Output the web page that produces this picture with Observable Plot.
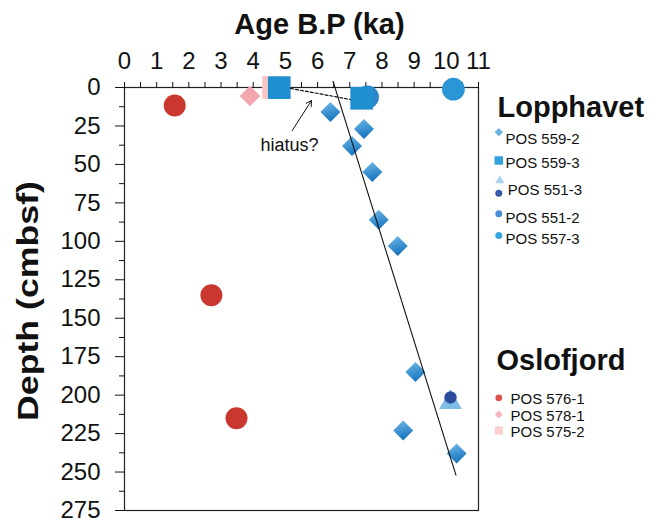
<!DOCTYPE html>
<html><head><meta charset="utf-8">
<script src="https://cdn.jsdelivr.net/npm/d3@7"></script>
<script src="https://cdn.jsdelivr.net/npm/@observablehq/plot@0.6"></script>
<style>
body{margin:0;background:#fff;}
svg{font-family:"Liberation Sans",Arial,sans-serif;}
</style>
</head><body><div id="chart"></div>
<script>
// ---- tick labels ----
const xTicks = [0,1,2,3,4,5,6,7,8,9,10,11];
const xMinorTicks = [0.5,1.5,2.5,3.5,4.5,5.5,6.5,7.5,8.5,9.5,10.5];
const yTicks = [0,25,50,75,100,125,150,175,200,225,250,275];
const yMinorTicks = [12.5,37.5,62.5,87.5,112.5,137.5,162.5,187.5,212.5,237.5,262.5];

// ---- Lopphavet cores ----
const age5592 = [6.40, 7.44, 7.07, 7.70, 7.90, 8.49, 9.04, 8.66, 10.32];
const depth5592 = [16, 27, 38, 55, 86, 103, 185, 223, 238];
const age5593 = [4.81, 7.37];
const depth5593 = [0.1, 7];
const age5513 = [10.13];
const depth5513 = [203];
const age5512 = [7.55];
const depth5512 = [6.2];
const age5573 = [10.22];
const depth5573 = [1.1];

// ---- Oslofjord cores ----
const age5761 = [1.56, 2.70, 3.48];
const depth5761 = [11.7, 135, 215];
const age5781 = [3.90];
const depth5781 = [5.5];
const age5752 = [4.63];
const depth5752 = [0];

// ---- annotations ----
const fitAge = [6.48, 10.30];
const fitDepth = [-4, 252];
const hiatusAge = [5.16, 7.02];
const hiatusDepth = [0.6, 7.8];
const arrowFrom = [5.21, 28];
const arrowTo = [5.81, 8.5];
const hiatusLabel = {age: 5.13, depth: 37.5, text: "hiatus?"};

const pts = (a, d) => a.map((v, i) => ({age: v, depth: d[i]}));

// legend (pixel layout relative to the frame's top-left)
const L = 124, T = 87;
function legText(t, x, y, size, weight) {
  return Plot.text([t], {frameAnchor: "top-left", dx: x - L, dy: y - T, text: d => d,
    textAnchor: "start", lineAnchor: "bottom", fontSize: size, fontWeight: weight || "normal", fill: "#111"});
}
function legSym(x, y, symbol, r, fill) {
  return Plot.dot([0], {frameAnchor: "top-left", dx: x - L, dy: y - T, symbol, r, fill, stroke: "none"});
}

const plot = Plot.plot({
  width: 651, height: 527,
  marginLeft: 124, marginRight: 173, marginTop: 87, marginBottom: 17,
  x: {domain: [0, 11], axis: null},
  y: {domain: [0, 275], reverse: true, axis: null},
  style: {overflow: "visible", fontFamily: "Liberation Sans, Arial, sans-serif", color: "#111"},
  marks: [
    Plot.frame({stroke: "#222", strokeWidth: 1.2}),
    Plot.axisX({anchor: "top", ticks: xTicks, tickSize: 6, tickPadding: 13, fontSize: 24, label: null, tickFormat: d => String(d)}),
    Plot.axisX({anchor: "top", ticks: xMinorTicks, tickSize: 6, text: null, label: null}),
    Plot.axisY({anchor: "left", ticks: yTicks, tickSize: 9, tickPadding: 15, fontSize: 24, label: null, tickFormat: d => String(d)}),
    Plot.axisY({anchor: "left", ticks: yMinorTicks, tickSize: 5, text: null, label: null}),

    // axis titles
    Plot.text(["Age B.P (ka)"], {frameAnchor: "top", dx: 18, dy: -54, text: d => d, lineAnchor: "bottom", fontSize: 29, fontWeight: "bold", fill: "#111"}),
    Plot.text(["Depth (cmbsf)"], {frameAnchor: "left", dx: -87, dy: 2, text: d => d, rotate: -90, textAnchor: "middle", lineAnchor: "bottom", fontSize: 30, fontWeight: "bold", fill: "#111", className: "ytitle"}),

    // Oslofjord
    Plot.dot(pts(age5752, depth5752), {x: "age", y: "depth", symbol: "square", r: 12.8, fill: "#f9c6c6"}),
    Plot.dot(pts(age5781, depth5781), {x: "age", y: "depth", symbol: "diamond2", r: 9.3, fill: "#f3a6ae"}),
    Plot.dot(pts(age5761, depth5761), {x: "age", y: "depth", symbol: "circle", r: 11, fill: "#c9372f"}),

    // Lopphavet
    Plot.dot(pts(age5573, depth5573), {x: "age", y: "depth", symbol: "circle", r: 11.4, fill: "#2a96d6"}),
    Plot.dot(pts(age5512, depth5512), {x: "age", y: "depth", symbol: "circle", r: 11.5, fill: "#2c86cc"}),
    Plot.dot(pts(age5593, depth5593), {x: "age", y: "depth", symbol: "square", r: 12.8, fill: "#1f8fcf"}),
    Plot.dot(pts(age5592, depth5592), {x: "age", y: "depth", symbol: "diamond2", r: 9, fill: "url(#diamondGrad)"}),
    Plot.dot(pts(age5513, depth5513), {x: "age", y: "depth", symbol: "triangle", r: 8.5, dy: 2.6, fill: "#7fbde8"}),
    Plot.dot(pts(age5513, depth5513), {x: "age", y: "depth", symbol: "circle", r: 6.2, dy: -2.3, fill: "#2c4c9c"}),

    // annotations
    Plot.line(pts(fitAge, fitDepth), {x: "age", y: "depth", stroke: "#111", strokeWidth: 1.1}),
    Plot.line(pts(hiatusAge, hiatusDepth), {x: "age", y: "depth", stroke: "#111", strokeWidth: 1.2, strokeDasharray: "3,2"}),
    Plot.arrow([{x1: arrowFrom[0], y1: arrowFrom[1], x2: arrowTo[0], y2: arrowTo[1]}],
      {x1: "x1", y1: "y1", x2: "x2", y2: "y2", stroke: "#111", strokeWidth: 1, headLength: 9, insetEnd: 0}),
    Plot.text([hiatusLabel], {x: "age", y: "depth", text: "text", fontSize: 18, fill: "#111"}),

    // legend: Lopphavet
    legText("Lopphavet", 497, 116, 29, "bold"),
    legSym(498.3, 131.7, "diamond2", 3.7, "#6ab0e0"),
    legText("POS 559-2", 505, 143.3, 15),
    legSym(498.3, 160, "square", 4.8, "#35a3db"),
    legText("POS 559-3", 505, 167.3, 15),
    legSym(499.3, 180, "triangle", 3.4, "#a8d4f0"),
    legSym(498.3, 192.7, "circle", 3.5, "#3a5aa8"),
    legText("POS 551-3", 507.3, 194, 15),
    legSym(498.3, 213.3, "circle", 3.5, "#4a8fd4"),
    legText("POS 551-2", 505, 222.7, 15),
    legSym(498.3, 235, "circle", 3.5, "#36a8dd"),
    legText("POS 557-3", 505, 243.3, 15),

    // legend: Oslofjord
    legText("Oslofjord", 496, 369.3, 29, "bold"),
    legSym(498.3, 397.3, "circle", 3.4, "#d9524c"),
    legText("POS 576-1", 510, 403.3, 15),
    legSym(498.3, 414, "diamond2", 3.6, "#f4b5bb"),
    legText("POS 578-1", 510, 420, 15),
    legSym(498.3, 430, "square", 4.6, "#fbd0d0"),
    legText("POS 575-2", 510, 436.7, 15)
  ]
});

const defs = d3.select(plot).insert("defs", ":first-child");
const g = defs.append("linearGradient").attr("id", "diamondGrad").attr("x1", 0).attr("y1", 0).attr("x2", 0.3).attr("y2", 1);
g.append("stop").attr("offset", "0%").attr("stop-color", "#74baea");
g.append("stop").attr("offset", "100%").attr("stop-color", "#1876bf");
d3.select(plot).selectAll(".ytitle text").attr("textLength", 240).attr("lengthAdjust", "spacingAndGlyphs");

document.getElementById("chart").appendChild(plot);
</script>
</body></html>
